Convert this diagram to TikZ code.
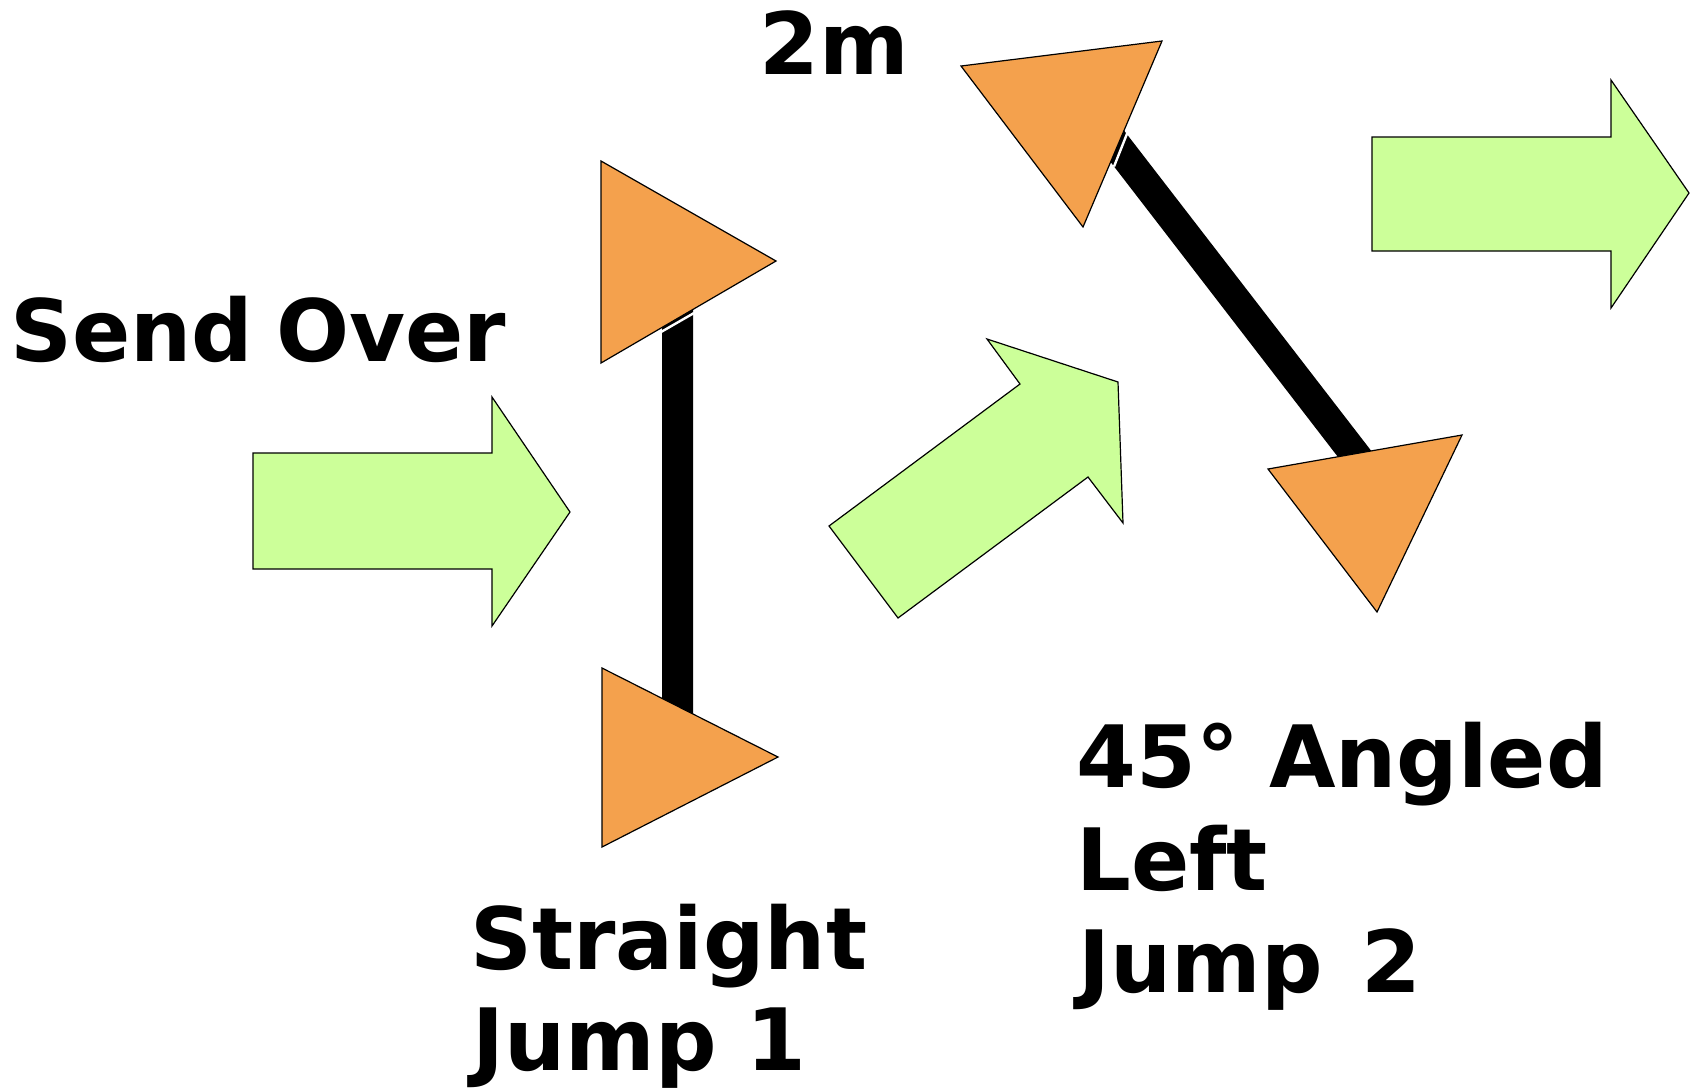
\documentclass[tikz,border=0pt]{standalone}
\usepackage{fontspec}
\setmainfont{DejaVu Sans}
\definecolor{cone}{HTML}{F4A14D}
\definecolor{arrowgreen}{HTML}{CCFF99}
\begin{document}
\begin{tikzpicture}[x=0.5pt,y=-0.5pt,
  conestyle/.style={fill=cone,draw=black,line width=0.6pt,line join=miter},
  arrowstyle/.style={fill=arrowgreen,draw=black,line width=0.6pt,line join=miter},
  polestyle/.style={fill=black,draw=none},
  gapstyle/.style={draw=white,line width=1.2pt},
  lbl/.style={anchor=base west,inner sep=0pt,font=\bfseries\fontsize{43}{50.5}\selectfont}]
\useasboundingbox (0,0) rectangle (1691,1089);
% poles
\fill[polestyle] (662,327.5) -- (693,309.4) -- (693,716) -- (662,716) -- cycle;
\draw[gapstyle] (661,332) -- (694,313);
\fill[polestyle] (1124,130.5) -- (1386,470) -- (1348,470) -- (1110.6,162) -- cycle;
\draw[gapstyle] (1127.5,132.5) -- (1114,166.5);
% cones
\draw[conestyle] (601,161) -- (776,261) -- (601,363) -- cycle;
\draw[conestyle] (602,668) -- (778,757) -- (602,847) -- cycle;
\draw[conestyle] (961,66) -- (1162,41) -- (1083,227) -- cycle;
\draw[conestyle] (1268,469) -- (1462,435) -- (1377,612) -- cycle;
% arrows
\draw[arrowstyle] (253,453) -- (492,453) -- (492,397) -- (570,512) -- (492,626) -- (492,569) -- (253,569) -- cycle;
\draw[arrowstyle] (1372,137) -- (1611,137) -- (1611,80) -- (1689,193) -- (1611,308) -- (1611,251) -- (1372,251) -- cycle;
\draw[arrowstyle] (829,526) -- (1020,384) -- (987,339) -- (1118,382) -- (1123,523) -- (1088,477) -- (898,618) -- cycle;
% labels
\node[lbl] (sendover) at (10,361) {Send\hspace{-0.08em} Over};
\node[lbl] (twom) at (759,74) {2m};
\node[lbl] (straight) at (470,969) {Straight};
\node[lbl] (jumpone) at (472,1070) {Jump 1};
\node[lbl] (angled) at (1076,787) {45° Angled};
\node[lbl] (left) at (1076,890) {Left};
\node[lbl] (jumptwo) at (1078,992) {Jump\hspace{0.1em} 2};
\end{tikzpicture}
\end{document}
